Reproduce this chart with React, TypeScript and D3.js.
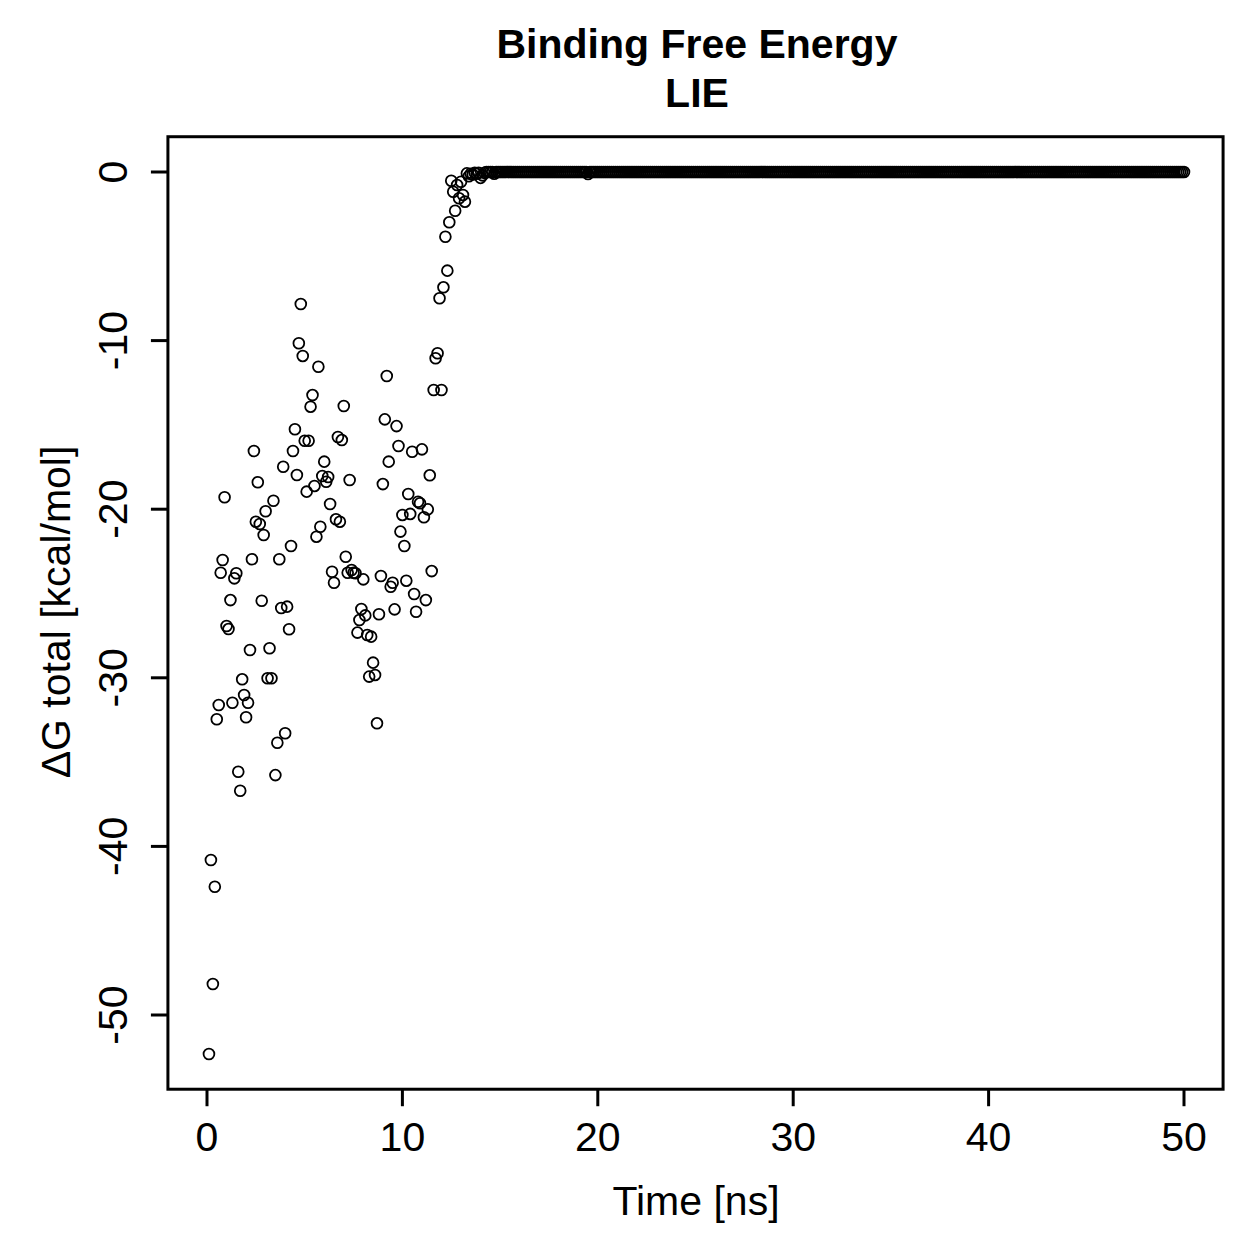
import * as d3 from "d3";

// LIE binding free energy trace, sampled every 0.1 ns
const step = 0.1;

// dG total [kcal/mol] for 0.1 .. 13.3 ns (scattered phase)
const earlyDG = [
  -52.31, -40.81, -48.16, -42.39, -32.46, -31.61, -23.77, -23.01, -19.29, -26.93,
  -27.11, -25.39, -31.48, -24.10, -23.80, -35.57, -36.70, -30.09, -31.02, -32.34,
  -31.48, -28.35, -22.97, -16.55, -20.74, -18.40, -20.88, -25.43, -21.53, -20.12,
  -30.03, -28.25, -30.03, -19.50, -35.77, -33.85, -22.97, -25.86, -17.48, -33.29,
  -25.78, -27.12, -22.18, -16.55, -15.26, -17.97, -10.16, -7.83, -10.91, -15.94,
  -18.96, -15.94, -13.92, -13.23, -18.62, -21.63, -11.55, -21.04, -18.03, -17.18,
  -18.37, -18.09, -19.69, -23.71, -24.36, -20.60, -15.72, -20.74, -15.90, -13.88,
  -22.82, -23.77, -18.27, -23.61, -23.77, -23.80, -27.32, -26.57, -25.92, -24.16,
  -26.30, -27.46, -29.93, -27.56, -29.10, -29.83, -32.70, -26.23, -23.96, -18.51,
  -14.67, -12.10, -17.18, -24.60, -24.36, -25.94, -15.07, -16.25, -21.33, -20.34,
  -22.18, -24.24, -19.10, -20.28, -16.59, -25.03, -26.08, -19.56, -19.65, -16.45,
  -20.48, -25.39, -20.01, -17.99, -23.67, -12.93, -11.05, -10.75, -7.49, -12.93,
  -6.84, -3.84, -5.85, -2.98, -0.52, -1.17, -2.30, -0.77, -1.56, -0.58,
  -1.36, -1.76, -0.08,
];

// small dips just after the plateau is reached (13.4 .. 14.8 ns)
const settleDG = [-0.25, -0.1, -0.15, -0.05, -0.1, -0.05, -0.35, -0.2, -0.05, 0, 0, 0, 0, -0.1, 0];

// flat at zero for the rest of the run, with one blip at 19.5 ns
const plateauEnd = 50;
const blipTime = 19.5;
const blipDG = -0.12;

const xTicks = [0, 10, 20, 30, 40, 50];
const yTicks = [0, -10, -20, -30, -40, -50];

const width = 1259;
const height = 1259;

type Pt = { t: number; g: number };

function buildData(): Pt[] {
  const pts: Pt[] = earlyDG.map((g, i) => ({ t: +((i + 1) * step).toFixed(1), g }));
  const n0 = earlyDG.length;
  settleDG.forEach((g, i) => pts.push({ t: +((n0 + 1 + i) * step).toFixed(1), g }));
  const start = n0 + settleDG.length + 1;
  for (let k = start; k <= Math.round(plateauEnd / step); k++) {
    const t = +(k * step).toFixed(1);
    pts.push({ t, g: t === blipTime ? blipDG : 0 });
  }
  return pts;
}

export default function App() {
  const data = buildData();
  const font = "'Liberation Sans', Arial, Helvetica, sans-serif";
  const fs = 41;

  const x = d3.scaleLinear([0, 50], [207, 1184]);
  const yMin = d3.min(data, (d) => d.g) as number;
  const yMax = d3.max(data, (d) => d.g) as number;
  const y = d3.scaleLinear([yMin, yMax], [1015 + (yMin + 50) * -16.86, 172]);
  // R-style 4% padding for the plot region
  const xr = 50 * 0.04;
  const yr = (yMax - yMin) * 0.04;
  const left = x(-xr);
  const right = x(50 + xr);
  const top = y(yMax + yr);
  const bottom = y(yMin - yr);

  return (
    <svg width={width} height={height} style={{ position: "absolute", left: 0, top: 0, background: "white" }}>
      <rect width={width} height={height} fill="white" />
      <g fontFamily={font} fontWeight="bold" fontSize={fs} textAnchor="middle" fill="black">
        <text x={697} y={58}>Binding Free Energy</text>
        <text x={697} y={107}>LIE</text>
      </g>

      <rect x={left} y={top} width={right - left} height={bottom - top} fill="none" stroke="black" strokeWidth={3} />

      <g stroke="black" strokeWidth={3}>
        {xTicks.map((t) => (
          <line key={t} x1={x(t)} x2={x(t)} y1={bottom} y2={bottom + 17} />
        ))}
        {yTicks.map((t) => (
          <line key={t} x1={left} x2={left - 17} y1={y(t)} y2={y(t)} />
        ))}
      </g>

      <g fontFamily={font} fontSize={fs} fill="black" textAnchor="middle">
        {xTicks.map((t) => (
          <text key={t} x={x(t)} y={1151}>{t}</text>
        ))}
        {yTicks.map((t) => (
          <text key={t} transform={`translate(${127},${y(t)}) rotate(-90)`}>{t}</text>
        ))}
        <text x={696} y={1215}>Time [ns]</text>
        <text transform={`translate(${70},${612}) rotate(-90)`}>ΔG total [kcal/mol]</text>
      </g>

      <g fill="none" stroke="black" strokeWidth={1.8}>
        {data.map((d, i) => (
          <circle key={i} cx={x(d.t)} cy={y(d.g)} r={5.4} />
        ))}
      </g>
    </svg>
  );
}
